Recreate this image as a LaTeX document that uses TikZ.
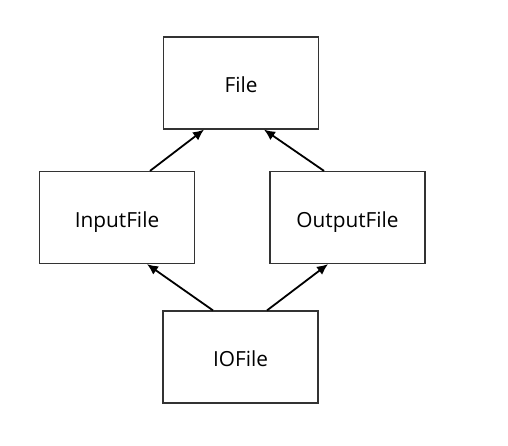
\documentclass[tikz,border=0pt]{standalone}
\usepackage{fontspec}
\setmainfont{Open Sans}
\usepackage{tikz}
\usetikzlibrary{arrows.meta}

\begin{document}
\begin{tikzpicture}[x=0.5pt, y=-0.5pt,
    box/.style={draw=black!80, line width=0.6pt, fill=white, minimum width=77.5pt, minimum height=46pt, inner sep=0pt, text height=9.5pt, text depth=0pt, font=\fontsize{10.4pt}{12pt}\selectfont},
    inherit/.style={-{Latex[length=5.5pt,width=5pt]}, line width=0.9pt}]
      \useasboundingbox (0,0) rectangle (508,445);
      \node[box] (file) at (241, 83) {File};
      \node[box] (inputfile) at (117, 217.5) {InputFile};
      \node[box] (outputfile) at (347.5, 217.5) {OutputFile};
      \node[box] (iofile) at (240.5, 357) {IOFile};

      \draw[inherit] ([xshift=16.5pt]inputfile.north) -- ([xshift=-18.5pt]file.south);
      \draw[inherit] ([xshift=-11.75pt]outputfile.north) -- ([xshift=11.5pt]file.south);
      \draw[inherit] ([xshift=-13.75pt]iofile.north) -- ([xshift=15pt]inputfile.south);
      \draw[inherit] ([xshift=13.25pt]iofile.north) -- ([xshift=-9.75pt]outputfile.south);
\end{tikzpicture}
\end{document}
